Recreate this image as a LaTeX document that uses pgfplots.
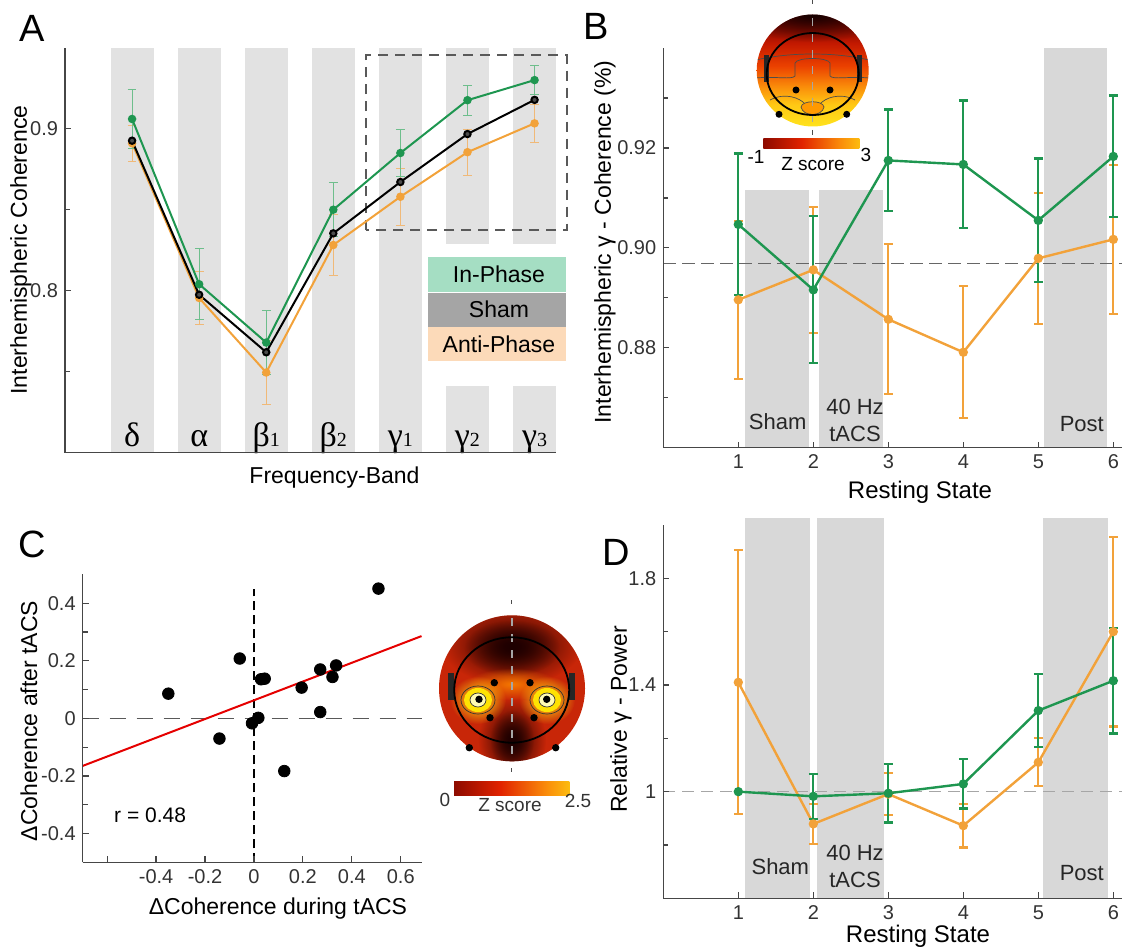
\documentclass[border=0pt]{standalone}
\usepackage{pgfplots}
\pgfplotsset{compat=1.18}
\usepackage{pgfplotstable}
\usepackage{fontspec}
\setmainfont{Liberation Sans}
\newfontfamily\serifgreek{Liberation Serif}
\usetikzlibrary{fadings}
\tikzfading[name=soft blob, inner color=transparent!0, outer color=transparent!100]

\definecolor{cgreen}{RGB}{30,150,80}
\definecolor{corange}{RGB}{242,162,58}
\definecolor{cgreenL}{RGB}{110,190,140}
\definecolor{corangeL}{RGB}{240,185,120}
\definecolor{bandA}{RGB}{226,226,226}
\definecolor{bandB}{RGB}{216,216,216}
\definecolor{axisc}{RGB}{70,70,70}
\definecolor{legG}{RGB}{165,222,195}
\definecolor{legS}{RGB}{165,165,165}
\definecolor{legO}{RGB}{252,218,185}
\definecolor{hot0}{RGB}{20,0,0}
\definecolor{hot1}{RGB}{120,5,0}
\definecolor{hot2}{RGB}{225,35,0}
\definecolor{hot3}{RGB}{250,140,10}
\definecolor{hot4}{RGB}{255,235,20}
\definecolor{hot5}{RGB}{255,250,190}
\definecolor{tB0}{RGB}{255,245,120}
\definecolor{tB1}{RGB}{255,230,30}
\definecolor{tB2}{RGB}{255,200,20}
\definecolor{tB3}{RGB}{250,140,10}
\definecolor{tB4}{RGB}{235,65,0}
\definecolor{tB5}{RGB}{195,25,0}
\definecolor{tB6}{RGB}{110,5,0}
\definecolor{tB7}{RGB}{45,0,0}
\definecolor{tB8}{RGB}{15,0,0}
\definecolor{cRed}{RGB}{200,38,8}
\definecolor{cDark}{RGB}{30,0,0}
\definecolor{cOrange}{RGB}{245,120,0}
\definecolor{cYellow}{RGB}{255,225,20}

\pgfdeclarehorizontalshading{hotbar}{100bp}{color(0bp)=(hot0); color(20bp)=(hot1); color(45bp)=(hot2); color(65bp)=(hot3); color(85bp)=(hot4); color(100bp)=(hot5)}
\pgfdeclareverticalshading{topoB}{100bp}{color(0bp)=(tB0); color(24bp)=(tB1); color(35bp)=(tB2); color(43bp)=(tB3); color(52bp)=(tB4); color(62bp)=(tB5); color(72bp)=(tB6); color(84bp)=(tB7); color(100bp)=(tB8)}

% Panel A: frequency bands
\pgfplotstableread{
x g ge s o oe
1 0.906 0.018 0.8926 0.891 0.011
2 0.804 0.022 0.7975 0.7955 0.0165
3 0.768 0.020 0.762 0.7495 0.0195
4 0.850 0.0165 0.8354 0.8282 0.019
5 0.885 0.0145 0.8671 0.858 0.0175
6 0.9176 0.0092 0.8967 0.8855 0.0143
7 0.930 0.009 0.9178 0.9033 0.0117
}\dataA

% Panel B: gamma coherence
\pgfplotstableread{
x g ge o oe
1 0.9047 0.0142 0.8896 0.0158
2 0.8916 0.0147 0.8956 0.0126
3 0.9175 0.0102 0.8857 0.0150
4 0.9167 0.0128 0.8791 0.0132
5 0.9055 0.0124 0.8979 0.0131
6 0.9183 0.0122 0.9017 0.0149
}\dataB

% Panel C: scatter
\pgfplotstableread{
x y
0.509 0.451
-0.350 0.086
-0.058 0.208
-0.141 -0.070
-0.008 -0.017
0.018 0.002
0.029 0.136
0.044 0.138
0.195 0.107
0.271 0.170
0.271 0.022
0.321 0.144
0.336 0.184
0.124 -0.183
}\dataC

% Panel D: gamma power
\pgfplotstableread{
x g ge o oe
1 1.000 0.000 1.410 0.495
2 0.9825 0.084 0.879 0.075
3 0.994 0.110 0.991 0.080
4 1.029 0.092 0.8725 0.082
5 1.304 0.137 1.110 0.090
6 1.416 0.198 1.600 0.356
}\dataD

\pgfplotsset{
  mystyle/.style={
    scale only axis, anchor=south west,
    axis lines=left, axis line style={-, draw=axisc, line width=0.75pt},
    tick align=inside, major tick length=3pt, minor tick length=2.5pt,
    tick style={draw=axisc, line width=0.6pt},
    tick label style={font=\fontsize{10}{10}\selectfont, text=black!80},
    /pgf/number format/assume math mode=true,
    clip=false, axis on top,
  },
}

\begin{document}
\begin{tikzpicture}
\useasboundingbox (0,0) rectangle (561pt,475pt);

%================ A =================
\begin{axis}[mystyle, at={(32.5pt,248.65pt)}, width=245.5pt, height=202.5pt,
  xmin=0, xmax=7.32, ymin=0.70, ymax=0.95, xtick=\empty,
  ytick={0.8,0.9}, yticklabels={0.8,0.9}, minor ytick={0.75,0.85}]
  \fill[bandA] (axis cs:0.68,0.70) rectangle (axis cs:1.32,0.95);
  \fill[bandA] (axis cs:1.68,0.70) rectangle (axis cs:2.32,0.95);
  \fill[bandA] (axis cs:2.68,0.70) rectangle (axis cs:3.32,0.95);
  \fill[bandA] (axis cs:3.68,0.70) rectangle (axis cs:4.32,0.95);
  \fill[bandA] (axis cs:4.68,0.70) rectangle (axis cs:5.32,0.95);
  \fill[bandA] (axis cs:5.68,0.70) rectangle (axis cs:6.32,0.741);
  \fill[bandA] (axis cs:5.68,0.829) rectangle (axis cs:6.32,0.95);
  \fill[bandA] (axis cs:6.68,0.70) rectangle (axis cs:7.32,0.741);
  \fill[bandA] (axis cs:6.68,0.829) rectangle (axis cs:7.32,0.95);
  % legend boxes
  \fill[legG] (axis cs:5.41,0.7994) rectangle (axis cs:7.47,0.8209);
  \fill[legS] (axis cs:5.41,0.7779) rectangle (axis cs:7.47,0.7988);
  \fill[legO] (axis cs:5.41,0.7564) rectangle (axis cs:7.47,0.7773);
  \node[font=\fontsize{11.5}{12}\selectfont] at (axis cs:6.47,0.8101) {In-Phase};
  \node[font=\fontsize{11.5}{12}\selectfont] at (axis cs:6.47,0.7884) {Sham};
  \node[font=\fontsize{11.5}{12}\selectfont] at (axis cs:6.47,0.7668) {Anti-Phase};
  % dashed box
  \draw[black!65, dashed, dash pattern=on 5pt off 3.5pt, line width=1pt]
    (axis cs:4.49,0.8374) rectangle (axis cs:7.48,0.9454);
  \addplot[corange, line width=1pt, mark=*, mark size=1.6pt,
    error bars/.cd, y dir=both, y explicit,
    error bar style={corangeL, line width=0.5pt},
    error mark options={rotate=90, corangeL, mark size=2.2pt, line width=0.5pt}]
    table[x=x, y=o, y error=oe] {\dataA};
  \addplot[cgreen, line width=1pt, mark=*, mark size=1.6pt,
    error bars/.cd, y dir=both, y explicit,
    error bar style={cgreenL, line width=0.5pt},
    error mark options={rotate=90, cgreenL, mark size=2.2pt, line width=0.5pt}]
    table[x=x, y=g, y error=ge] {\dataA};
  \addplot[black, line width=1pt, mark=*, mark size=1.6pt, mark options={fill=black!70}]
    table[x=x, y=s] {\dataA};
  % band names
  \newcommand{\gsub}[1]{{\fontsize{10}{10}\selectfont #1}}
  \node[anchor=base, font=\fontsize{17}{17}\selectfont\serifgreek] at (axis cs:1,0.7037) {δ};
  \node[anchor=base, font=\fontsize{17}{17}\selectfont\serifgreek] at (axis cs:2,0.7037) {α};
  \node[anchor=base, font=\fontsize{17}{17}\selectfont\serifgreek] at (axis cs:3,0.7037) {β\gsub{1}};
  \node[anchor=base, font=\fontsize{17}{17}\selectfont\serifgreek] at (axis cs:4,0.7037) {β\gsub{2}};
  \node[anchor=base, font=\fontsize{17}{17}\selectfont\serifgreek] at (axis cs:5,0.7037) {γ\gsub{1}};
  \node[anchor=base, font=\fontsize{17}{17}\selectfont\serifgreek] at (axis cs:6,0.7037) {γ\gsub{2}};
  \node[anchor=base, font=\fontsize{17}{17}\selectfont\serifgreek] at (axis cs:7,0.7037) {γ\gsub{3}};
\end{axis}

%================ B =================
\begin{axis}[mystyle, at={(331.65pt,251.15pt)}, width=229.35pt, height=199.85pt,
  xmin=0, xmax=6.116, ymin=0.86, ymax=0.94,
  xtick={1,2,3,4,5,6}, ytick={0.88,0.90,0.92}, yticklabels={0.88,0.90,0.92},
  minor ytick={0.87,0.89,0.91,0.93}]
  \fill[bandB] (axis cs:1.09,0.86) rectangle (axis cs:1.94,0.9115);
  \fill[bandB] (axis cs:2.08,0.86) rectangle (axis cs:2.93,0.9115);
  \fill[bandB] (axis cs:5.07,0.86) rectangle (axis cs:5.91,0.94);
  \draw[black!60, line width=0.6pt, dash pattern=on 6.5pt off 3pt] (axis cs:0,0.8969) -- (axis cs:6.116,0.8969);
  \addplot[corange, line width=1.2pt, mark=*, mark size=1.7pt,
    error bars/.cd, y dir=both, y explicit,
    error bar style={corange, line width=1.1pt},
    error mark options={rotate=90, corange, mark size=2.2pt, line width=1.1pt}]
    table[x=x, y=o, y error=oe] {\dataB};
  \addplot[cgreen, line width=1.2pt, mark=*, mark size=1.7pt,
    error bars/.cd, y dir=both, y explicit,
    error bar style={cgreen, line width=1.1pt},
    error mark options={rotate=90, cgreen, mark size=2.2pt, line width=1.1pt}]
    table[x=x, y=g, y error=ge] {\dataB};
  \node[anchor=base, font=\fontsize{11}{11}\selectfont, text=black!85] at (axis cs:1.525,0.8637) {Sham};
  \node[anchor=base, font=\fontsize{11}{11}\selectfont, text=black!85] at (axis cs:2.556,0.8667) {40 Hz};
  \node[anchor=base, font=\fontsize{11}{11}\selectfont, text=black!85] at (axis cs:2.556,0.8613) {tACS};
  \node[anchor=base, font=\fontsize{11}{11}\selectfont, text=black!85] at (axis cs:5.58,0.8633) {Post};
\end{axis}

%================ C =================
\begin{axis}[mystyle, at={(41.35pt,43.85pt)}, width=169.4pt, height=143.9pt,
  xmin=-0.7, xmax=0.685, ymin=-0.5, ymax=0.5,
  xtick={-0.6,-0.4,-0.2,0,0.2,0.4,0.6}, xticklabels={,-0.4,-0.2,0,0.2,0.4,0.6},
  ytick={-0.4,-0.2,0,0.2,0.4}, yticklabels={-0.4,-0.2,0,0.2,0.4},
  minor ytick={-0.3,-0.1,0.1,0.3}]
  \draw[black!65, line width=0.8pt, dash pattern=on 8pt off 5.5pt] (axis cs:-0.7,0) -- (axis cs:0.685,0);
  \draw[black, line width=0.7pt, dash pattern=on 4.5pt off 2.5pt] (axis cs:0,-0.5) -- (axis cs:0,0.45);
  \addplot[red!90!black, line width=1pt] coordinates {(-0.7,-0.165) (0.685,0.286)};
  \addplot[only marks, mark=*, mark size=2.9pt, black] table[x=x,y=y] {\dataC};
  \node[anchor=base west, font=\fontsize{10.5}{11}\selectfont] at (axis cs:-0.6,-0.36) {r = 0.48};
\end{axis}

%================ D =================
\begin{axis}[mystyle, at={(331.65pt,25.85pt)}, width=229.35pt, height=186.65pt,
  xmin=0, xmax=6.116, ymin=0.6, ymax=2.0,
  xtick={1,2,3,4,5,6}, ytick={1,1.4,1.8}, yticklabels={1,1.4,1.8},
  minor ytick={0.8,1.2,1.6}]
  \fill[bandB] (axis cs:1.09,0.6) rectangle (axis cs:1.96,2.025);
  \fill[bandB] (axis cs:2.05,0.6) rectangle (axis cs:2.94,2.025);
  \fill[bandB] (axis cs:5.06,0.6) rectangle (axis cs:5.93,2.025);
  \draw[black!35, line width=0.8pt, dash pattern=on 6pt off 3.5pt] (axis cs:0,1) -- (axis cs:6.116,1);
  \addplot[corange, line width=1.2pt, mark=*, mark size=1.7pt,
    error bars/.cd, y dir=both, y explicit,
    error bar style={corange, line width=1.1pt},
    error mark options={rotate=90, corange, mark size=2.2pt, line width=1.1pt}]
    table[x=x, y=o, y error=oe] {\dataD};
  \addplot[cgreen, line width=1.2pt, mark=*, mark size=1.7pt,
    error bars/.cd, y dir=both, y explicit,
    error bar style={cgreen, line width=1.1pt},
    error mark options={rotate=90, cgreen, mark size=2.2pt, line width=1.1pt}]
    table[x=x, y=g, y error=ge] {\dataD};
  \node[anchor=base, font=\fontsize{11}{11}\selectfont, text=black!85] at (axis cs:1.56,0.691) {Sham};
  \node[anchor=base, font=\fontsize{11}{11}\selectfont, text=black!85] at (axis cs:2.556,0.741) {40 Hz};
  \node[anchor=base, font=\fontsize{11}{11}\selectfont, text=black!85] at (axis cs:2.556,0.641) {tACS};
  \node[anchor=base, font=\fontsize{11}{11}\selectfont, text=black!85] at (axis cs:5.58,0.666) {Post};
\end{axis}

%================ decorations in pixel coordinates =================
\begin{scope}[x=0.5pt,y=-0.5pt,yshift=475pt]
  % panel letters
  \node[anchor=base west, font=\fontsize{19}{19}\selectfont, inner sep=0] at (19,42) {A};
  \node[anchor=base west, font=\fontsize{19}{19}\selectfont, inner sep=0] at (583,40) {B};
  \node[anchor=base west, font=\fontsize{19}{19}\selectfont, inner sep=0] at (18,557) {C};
  \node[anchor=base west, font=\fontsize{19}{19}\selectfont, inner sep=0] at (602,565) {D};
  % axis labels
  \node[rotate=90, font=\fontsize{11.5}{12}\selectfont] at (21,250) {Interhemispheric Coherence};
  \node[anchor=base, font=\fontsize{11.5}{12}\selectfont] at (334.5,483) {Frequency-Band};
  \node[rotate=90, font=\fontsize{11.5}{12}\selectfont] at (605,242) {Interhemispheric γ - Coherence (\%)};
  \node[anchor=base, font=\fontsize{12}{12}\selectfont] at (920,498) {Resting State};
  \node[rotate=90, font=\fontsize{11.5}{12}\selectfont] at (29,721) {ΔCoherence after tACS};
  \node[anchor=base, font=\fontsize{11.5}{12}\selectfont] at (278,914) {ΔCoherence during tACS};
  \node[rotate=90, font=\fontsize{11.5}{12}\selectfont] at (621,719.5) {Relative γ - Power};
  \node[anchor=base, font=\fontsize{12}{12}\selectfont] at (918,942) {Resting State};

  % ---- B topomap ----
  \begin{scope}
    \clip (812.7,70.5) circle [radius=56];
    \shade[shading=topoB] (755,14) rectangle (870,127);
    \fill[black, path fading=soft blob, opacity=0.8] (812.7,14) ellipse [x radius=75, y radius=28];
    \draw[black!70, line width=0.35pt] (756,78) .. controls (775,76) and (792,80) .. (795,76) -- (795,63) .. controls (797,57) and (828,57) .. (830,63) -- (830,76) .. controls (833,80) and (850,76) .. (869,78);
    \draw[black!70, line width=0.35pt] (756,60) .. controls (790,52) and (835,52) .. (869,60);
    \draw[black!70, line width=0.35pt] (770,100) .. controls (785,92) and (800,98) .. (805,104);
    \draw[black!70, line width=0.35pt] (855,100) .. controls (840,92) and (825,98) .. (820,104);
    \draw[black!70, line width=0.35pt, fill=orange!80!yellow] (801,107) .. controls (802,100) and (823,100) .. (824,107) .. controls (822,117) and (803,117) .. (801,107);
    \fill[black!85] (764,55) rectangle (769,82);
    \fill[black!85] (857,55) rectangle (862,82);
  \end{scope}
  \draw[black!35, line width=0.6pt, dash pattern=on 4pt off 4pt] (812.7,18) -- (812.7,124);
  \draw[black, line width=0.9pt] (812.7,74) ellipse [x radius=46, y radius=41];
  \draw[black!70, line width=0.6pt] (812.7,0) -- (812.7,4);
  \draw[black!70, line width=0.6pt] (812.7,130) -- (812.7,135);
  \fill[black] (796,90) circle [radius=3.5];
  \fill[black] (830,90) circle [radius=3.5];
  \fill[black] (779,114.3) circle [radius=3.5];
  \fill[black] (846.7,114.3) circle [radius=3.5];
  \shade[shading=hotbar] (763.3,138.3) rectangle (859.3,148.3);
  \node[font=\fontsize{9.5}{10}\selectfont] at (756,157) {-1};
  \node[font=\fontsize{9.5}{10}\selectfont] at (813,164) {Z score};
  \node[font=\fontsize{9.5}{10}\selectfont] at (866,155) {3};

  % ---- C topomap ----
  \begin{scope}
    \clip (512,688.3) circle [radius=73];
    \fill[cRed] (430,610) rectangle (595,765);
    \fill[cDark, path fading=soft blob] (512,645) ellipse [x radius=70, y radius=40];
    \fill[cDark, path fading=soft blob] (512,648) ellipse [x radius=48, y radius=28];
    \fill[cDark, path fading=soft blob] (512,740) ellipse [x radius=34, y radius=42];
    \fill[cDark, path fading=soft blob] (512,740) ellipse [x radius=22, y radius=30];
    \fill[cOrange, path fading=soft blob] (512,684) ellipse [x radius=45, y radius=16];
    \fill[cYellow, path fading=soft blob] (478,700) ellipse [x radius=28, y radius=24];
    \fill[cYellow, path fading=soft blob] (547,700) ellipse [x radius=28, y radius=24];
    \fill[yellow!85!orange] (478,700) ellipse [x radius=14, y radius=12];
    \fill[yellow!85!orange] (547,700) ellipse [x radius=14, y radius=12];
    \draw[black!80, line width=0.35pt] (478,700) ellipse [x radius=17, y radius=14];
    \draw[black!80, line width=0.35pt] (547,700) ellipse [x radius=17, y radius=14];
    \draw[black!80, line width=0.35pt, fill=yellow!30] (478,700) ellipse [x radius=8, y radius=7];
    \draw[black!80, line width=0.35pt, fill=yellow!30] (547,700) ellipse [x radius=8, y radius=7];
    \fill[black!85] (448,673) rectangle (454,700);
    \fill[black!85] (569,673) rectangle (575,700);
  \end{scope}
  \draw[black!35, line width=0.6pt, dash pattern=on 4pt off 4pt] (512,618) -- (512,760);
  \draw[black, line width=0.9pt] (511.7,690) ellipse [x radius=57.5, y radius=52.7];
  \draw[black!70, line width=0.6pt] (511.7,600) -- (511.7,604);
  \draw[black!70, line width=0.6pt] (511.7,768) -- (511.7,772);
  \fill[black] (494.3,682.7) circle [radius=3.7];
  \fill[black] (530,682.7) circle [radius=3.7];
  \fill[black] (479,699.3) circle [radius=3.7];
  \fill[black] (546.7,699.3) circle [radius=3.7];
  \fill[black] (490,717.7) circle [radius=3.7];
  \fill[black] (534,717.7) circle [radius=3.7];
  \fill[black] (469.3,747.7) circle [radius=3.7];
  \fill[black] (555.7,747.7) circle [radius=3.7];
  \shade[shading=hotbar] (454,781.7) rectangle (569.3,795);
  \node[font=\fontsize{9.5}{10}\selectfont, text=black!80] at (445,800) {0};
  \node[font=\fontsize{9.5}{10}\selectfont, text=black!80] at (510,805) {Z score};
  \node[font=\fontsize{9.5}{10}\selectfont, text=black!80] at (578,800.7) {2.5};
\end{scope}
\end{tikzpicture}
\end{document}
